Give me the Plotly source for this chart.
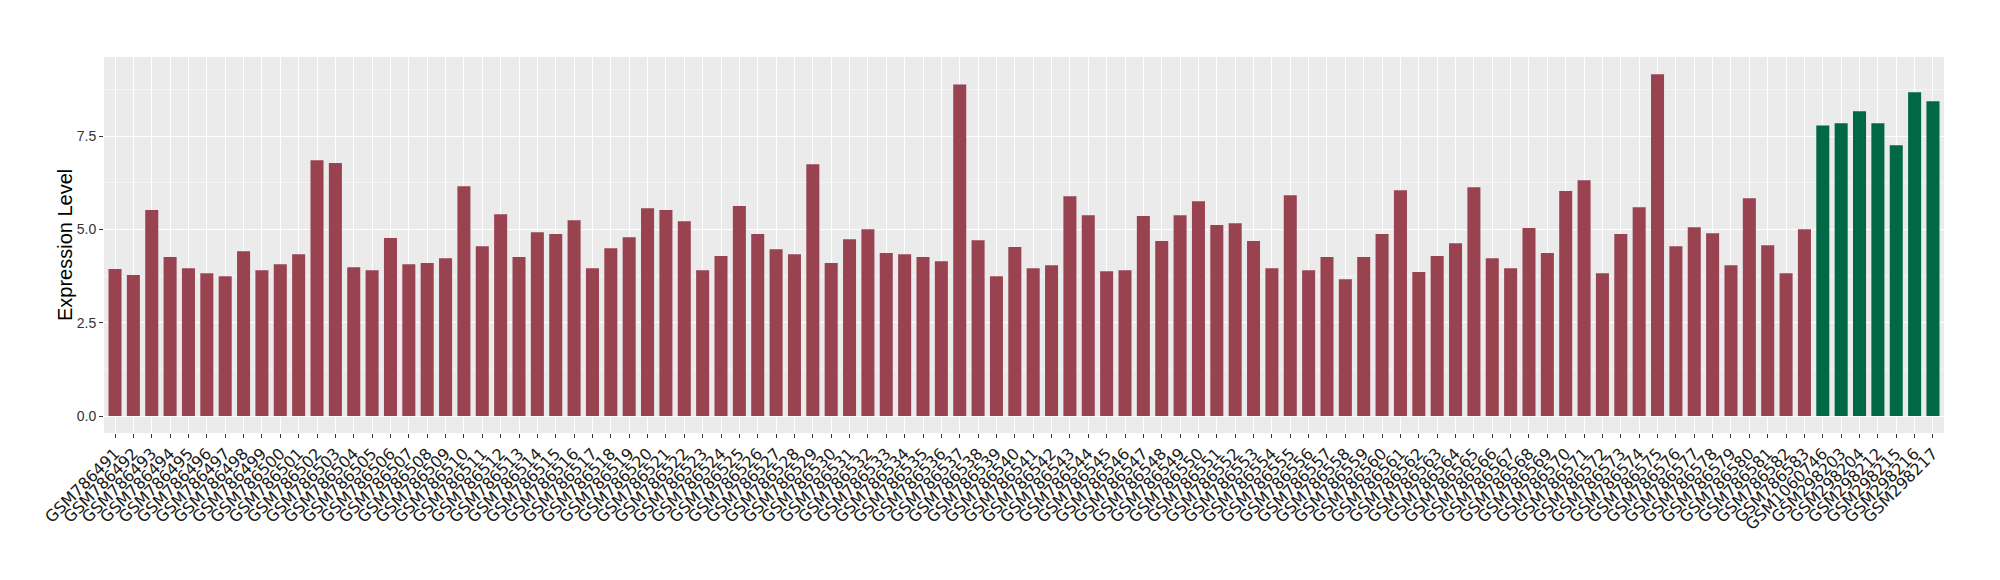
import plotly.graph_objects as go

samples = [f"GSM{n}" for n in range(786491, 786584)] + [
    "GSM1060746", "GSM298203", "GSM298204", "GSM298212", "GSM298215", "GSM298216", "GSM298217"]

values = [
    3.94, 3.78, 5.52, 4.26, 3.96, 3.83, 3.75, 4.42, 3.91, 4.07,
    4.34, 6.86, 6.78, 3.99, 3.91, 4.77, 4.07, 4.10, 4.23, 6.16,
    4.55, 5.41, 4.26, 4.93, 4.88, 5.25, 3.96, 4.50, 4.79, 5.57,
    5.52, 5.22, 3.91, 4.29, 5.63, 4.88, 4.47, 4.34, 6.75, 4.10,
    4.74, 5.01, 4.37, 4.34, 4.26, 4.15, 8.89, 4.71, 3.75, 4.53,
    3.96, 4.04, 5.89, 5.38, 3.88, 3.91, 5.36, 4.69, 5.38, 5.76,
    5.12, 5.17, 4.69, 3.96, 5.92, 3.91, 4.26, 3.67, 4.26, 4.88,
    6.05, 3.86, 4.29, 4.63, 6.13, 4.23, 3.96, 5.04, 4.37, 6.03,
    6.32, 3.83, 4.88, 5.60, 9.16, 4.55, 5.06, 4.90, 4.04, 5.84,
    4.58, 3.83, 5.01,
    7.79, 7.85, 8.17, 7.85, 7.26, 8.68, 8.44,
]

groups = ["normal"] * 93 + ["tumor"] * 7
group_colors = {"normal": "#9A4350", "tumor": "#006844"}
colors = [group_colors[g] for g in groups]

y_ticks = [0.0, 2.5, 5.0, 7.5]
y_tick_labels = ["0.0", "2.5", "5.0", "7.5"]
y_title = "Expression Level"

fig = go.Figure(go.Bar(x=samples, y=values, marker=dict(color=colors, line=dict(width=0)),
                       showlegend=False))

# page body has an 8px margin, so the figure is 16px smaller than the window
fig.update_layout(
    width=1984, height=564,
    margin=dict(l=96, r=48, t=49, b=139),
    paper_bgcolor="white", plot_bgcolor="#EBEBEB",
    bargap=0.29,
    font=dict(family="Liberation Sans, Arial, sans-serif", color="#1a1a1a"),
)
fig.update_xaxes(
    type="category", tickangle=-45, automargin=False,
    tickmode="array", tickvals=samples, ticktext=samples,
    range=[-0.6, len(samples) - 0.4],
    showgrid=True, gridcolor="white", gridwidth=1.2,
    ticks="outside", ticklen=4, tickcolor="#333333", tickwidth=1,
    tickfont=dict(family="DejaVu Sans", size=16, color="#1a1a1a"),
    showline=False, zeroline=False,
)
fig.update_yaxes(
    range=[-0.455, 9.625], automargin=False,
    tickvals=y_ticks, ticktext=y_tick_labels,
    showgrid=True, gridcolor="white", gridwidth=1.2,
    minor=dict(tickvals=[1.25, 3.75, 6.25, 8.75], showgrid=True, gridcolor="#F5F5F5", gridwidth=0.8, ticks=""),
    ticks="outside", ticklen=4, tickcolor="#333333", tickwidth=1,
    tickfont=dict(family="Liberation Sans, Arial", size=14, color="#333333"),
    zeroline=False, showline=False,
)
fig.add_annotation(
    text=y_title, textangle=-90, showarrow=False,
    xref="paper", yref="paper", x=0, y=0.5, xanchor="center", yanchor="middle", xshift=-39,
    font=dict(family="Liberation Sans, Arial", size=20, color="black"),
)

fig.write_html("out.html")
